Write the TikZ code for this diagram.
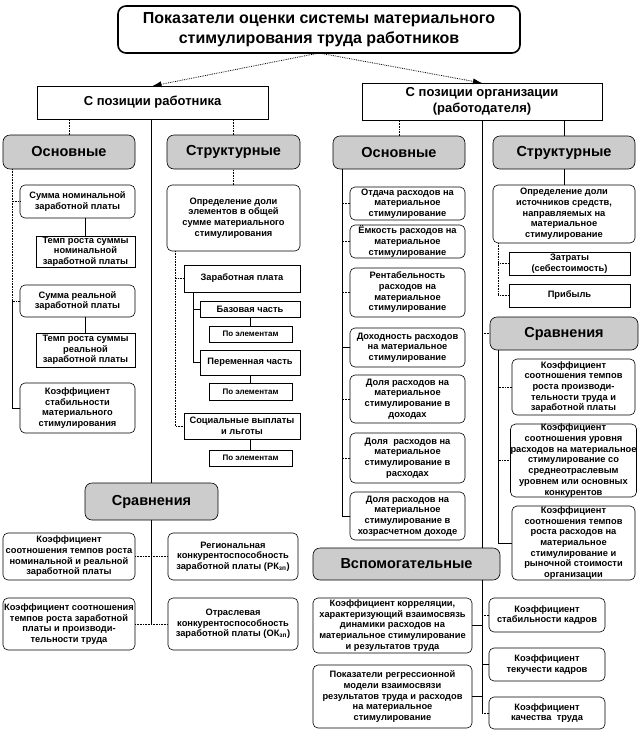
\documentclass[tikz,border=0pt]{standalone}
\usepackage{fontspec}
\setmainfont{Liberation Sans}
\usetikzlibrary{arrows.meta}

\begin{document}
\begin{tikzpicture}[x=1pt,y=-1pt,
  every node/.style={inner sep=0pt,outer sep=0pt,align=center,font=\bfseries\fontsize{9.3}{10.7}\selectfont},
  sz/.style 2 args={minimum width=#1pt,minimum height=#2pt},
  ttl/.style={draw,line width=1.6pt,rounded corners=8pt,font=\bfseries\fontsize{16}{20.5}\selectfont},
  sidebox/.style={draw,line width=0.6pt,font=\bfseries\fontsize{13}{15.5}\selectfont},
  hd/.style={draw,line width=0.6pt,fill=black!20,rounded corners=7pt,font=\bfseries\fontsize{14.5}{16}\selectfont},
  rb/.style={draw,line width=0.6pt,rounded corners=5pt},
  sb/.style={draw,line width=0.6pt},
  sm/.style={draw,line width=0.6pt,font=\bfseries\fontsize{8}{9}\selectfont},
  dl/.style={densely dotted,line width=0.6pt},
  sl/.style={line width=0.6pt}]
\useasboundingbox (0,0) rectangle (642,734);

\node[ttl,sz={402}{47}] (title) at (319,29.5) {Показатели оценки системы материального\\стимулирования труда работников};
\node[sidebox,sz={231}{33}] (lpos) at (152.5,102.5) {С позиции работника};
\node[sidebox,sz={240}{37}] (rpos) at (482,101.5) {С позиции организации\\(работодателя)};
\draw[dl,line width=0.8pt,-{Latex[length=9pt,width=6pt]}] (title.south) -- (lpos.north);
\draw[dl,line width=0.8pt,-{Latex[length=9pt,width=6pt]}] (title.south) -- (rpos.north);

\node[hd,sz={132}{34}] (losn) at (69,152) {Основные};
\node[hd,sz={133}{34}] (lstr) at (233.5,152) {Структурные};
\node[hd,sz={133}{37}] (lcmp) at (151.5,501.5) {Сравнения};
\draw[dl] (losn.north) -- (losn.north |- lpos.south);
\draw[dl] (lstr.north) -- (lstr.north |- lpos.south);
\draw[sl] (lcmp.north) -- (lcmp.north |- lpos.south);

\node[rb,sz={115}{33}] (n1) at (77.5,201.5) {Сумма номинальной\\заработной платы};
\node[sb,sz={99}{31}] (t1) at (85.5,251.5) {Темп роста суммы\\номинальной\\заработной платы};
\node[rb,sz={115}{32}] (n2) at (77.5,301) {Сумма реальной\\заработной платы};
\node[sb,sz={99}{34}] (t2) at (85.5,350) {Темп роста суммы\\реальной\\заработной платы};
\node[rb,sz={115}{50}] (n3) at (77.5,408) {Коэффициент\\стабильности\\материального\\стимулирования};
\coordinate (ls) at (12,169);
\draw[dl] (ls) |- (n1.west);
\draw[dl] (ls) |- (n2.west);
\draw[sl] (n2.west -| ls) |- (n3.west);
\draw[sl] (t1.north) -- (t1.north |- n1.south);
\draw[sl] (t2.north) -- (t2.north |- n2.south);

\node[rb,sz={133}{66}] (d1) at (233.5,218) {Определение доли\\элементов в общей\\сумме материального\\стимулирования};
\node[sb,sz={116}{27}] (z1) at (242,278.5) {Заработная плата};
\node[sb,sz={100}{16}] (b1) at (250,309) {Базовая часть};
\node[sm,sz={83}{16}] (e1) at (250.5,334) {По элементам};
\node[sb,sz={100}{25}] (p1) at (250,362.5) {Переменная часть};
\node[sm,sz={83}{17}] (e2) at (250.5,391.5) {По элементам};
\node[sb,sz={116}{26}] (c1) at (242,426) {Социальные выплаты\\и льготы};
\node[sm,sz={83}{16}] (e3) at (250.5,458) {По элементам};
\draw[dl] (d1.north) -- (d1.north |- lstr.south);
\coordinate (ds) at (175,251);
\draw[dl] (ds) |- (z1.west);
\draw[dl] (ds) |- (c1.west);
\coordinate (zs) at (193,292);
\draw[sl] (zs) |- (b1.west);
\draw[sl] (zs) |- (p1.west);
\draw[sl] (e1.north) -- (e1.north |- b1.south);
\draw[sl] (e2.north) -- (e2.north |- p1.south);
\draw[sl] (e3.north) -- (e3.north |- c1.south);

\node[rb,sz={132}{47}] (k1) at (69,556.5) {Коэффициент\\соотношения темпов роста\\номинальной и реальной\\заработной платы};
\node[rb,sz={130}{47}] (r1) at (233,556.5) {Региональная\\конкурентоспособность\\заработной платы  (РК\textsubscript{зп})};
\node[rb,sz={132}{52}] (k2) at (69,624) {Коэффициент соотношения\\темпов роста заработной\\платы и производи-\\тельности труда};
\node[rb,sz={130}{52}] (o1) at (233,624) {Отраслевая\\конкурентоспособность\\заработной платы (ОК\textsubscript{зп})};
\draw[sl] (lcmp.south) -- (lcmp.south |- k2.east);
\draw[dl] (k1.east) -- (r1.west);
\draw[dl] (k2.east) -- (o1.west);

\node[hd,sz={132}{33}] (rosn) at (399,152.5) {Основные};
\node[hd,sz={142}{33}] (rstr) at (564,152.5) {Структурные};
\node[hd,sz={148}{33}] (rcmp) at (564,333.5) {Сравнения};
\node[hd,sz={187}{32}] (vsp) at (406.5,564) {Вспомогательные};
\draw[dl] (rosn.north) -- (rosn.north |- rpos.south);
\draw[sl] (rstr.north) -- (rstr.north |- rpos.south);
\draw[sl] (rpos.south) -- (rpos.south |- vsp.north);
\draw[dl] (rpos.south |- rcmp.west) -- (rcmp.west);

\node[rb,sz={115}{33}] (a1) at (407.5,203.5) {Отдача расходов на\\материальное\\стимулирование};
\node[rb,sz={115}{33}] (a2) at (407.5,241.5) {Ёмкость расходов на\\материальное\\стимулирование};
\node[rb,sz={115}{49}] (a3) at (407.5,292.5) {Рентабельность\\расходов на\\материальное\\стимулирование};
\node[rb,sz={115}{39}] (a4) at (407.5,347.5) {Доходность расходов\\на материальное\\стимулирование};
\node[rb,sz={115}{48}] (a5) at (407.5,399) {Доля расходов на\\материальное\\стимулирование в\\доходах};
\node[rb,sz={115}{50}] (a6) at (407.5,458) {Доля\ \ расходов на\\материальное\\стимулирование в\\расходах};
\node[rb,sz={115}{48}] (a7) at (407.5,516) {Доля расходов на\\материальное\\стимулирование в\\хозрасчетном доходе};
\coordinate (as) at (342,169);
\draw[sl] (as) |- (a7.west);
\draw[dl] (a1.west) -- (a1.west -| as);
\draw[dl] (a2.west) -- (a2.west -| as);
\draw[dl] (a3.west) -- (a3.west -| as);
\draw[sl] (a4.west) -- (a4.west -| as);
\draw[dl] (a5.west) -- (a5.west -| as);
\draw[dl] (a6.west) -- (a6.west -| as);
\draw[dl] (a7.west) -- (a7.west -| as);

\node[rb,sz={142}{58}] (q1) at (564,214) {Определение доли\\источников средств,\\направляемых на\\материальное\\стимулирование};
\node[sb,sz={121}{23}] (q2) at (569.5,263.5) {Затраты\\(себестоимость)};
\node[sb,sz={121}{23}] (q3) at (569.5,295.5) {Прибыль};
\draw[sl] (q1.north) -- (q1.north |- rstr.south);
\coordinate (qs) at (498,243);
\draw[dl] (qs) |- (q2.west);
\draw[dl] (qs) |- (q3.west);

\node[rb,sz={123}{56}] (g1) at (573.5,387) {Коэффициент\\соотношения темпов\\роста производи-\\тельности труда и\\заработной платы};
\node[rb,sz={123}{73}] (g2) at (573.5,460.5) {Коэффициент\\соотношения уровня\\расходов на материальное\\стимулирование со\\среднеотраслевым\\уровнем или основных\\конкурентов};
\node[rb,sz={123}{74}] (g3) at (573.5,543) {Коэффициент\\соотношения темпов\\роста расходов на\\материальное\\стимулирование и\\рыночной стоимости\\организации};
\coordinate (cs) at (498,350);
\draw[sl] (cs) |- (g3.west);
\draw[dl] (g1.west) -- (g1.west -| cs);
\draw[dl] (g2.west) -- (g2.west -| cs);

\node[rb,sz={159}{55}] (h1) at (392.5,625.5) {Коэффициент корреляции,\\характеризующий взаимосвязь\\динамики расходов на\\материальное стимулирование\\и результатов труда};
\node[rb,sz={159}{63}] (h2) at (392.5,696.5) {Показатели регрессионной\\модели взаимосвязи\\результатов труда и расходов\\на материальное\\стимулирование};
\node[rb,sz={116}{34}] (x1) at (547,615) {Коэффициент\\стабильности кадров};
\node[rb,sz={116}{33}] (x2) at (547,664.5) {Коэффициент\\текучести кадров};
\node[rb,sz={116}{32}] (x3) at (547,713) {Коэффициент\\качества\ \ труда};
\draw[sl] (rpos.south |- vsp.south) -- (rpos.south |- x3.west);
\draw[dl] (x1.west) -- (x1.west -| rpos.south);
\draw[sl] (x2.west) -- (x2.west -| rpos.south);
\draw[dl] (x3.west) -- (x3.west -| rpos.south);
\draw[sl] (h1.east) -- (h1.east -| rpos.south);
\draw[sl] (h2.east) -- (h2.east -| rpos.south);
\end{tikzpicture}
\end{document}
